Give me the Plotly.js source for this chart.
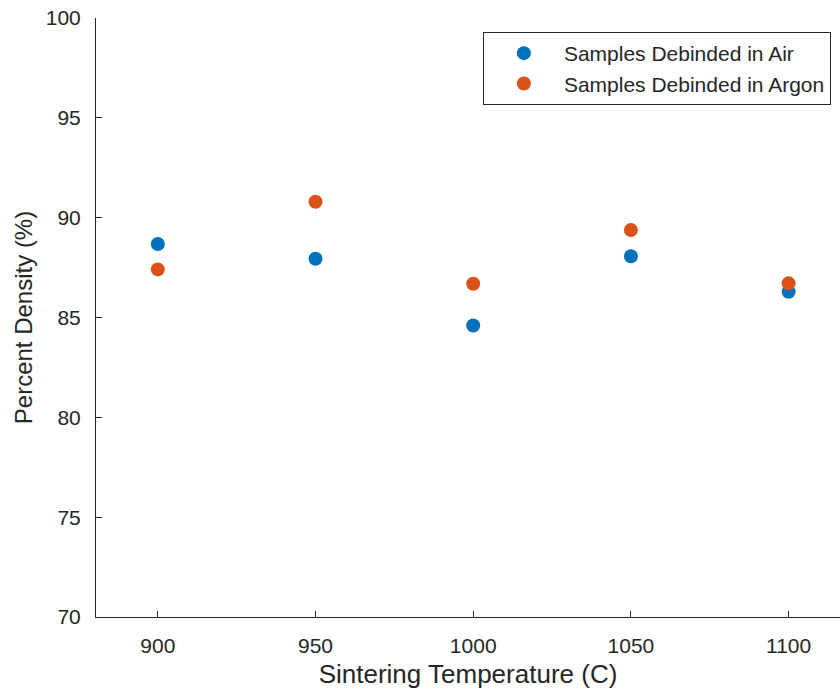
<!DOCTYPE html>
<html>
<head>
<meta charset="utf-8">
<script src="https://cdn.plot.ly/plotly-3.0.1.min.js"></script>
<style>html,body{margin:0;padding:0;background:#fff;}#chart{width:840px;height:696px;}</style>
</head>
<body>
<div id="chart"></div>
<script>
const temperatures = [900, 950, 1000, 1050, 1100];
const densityAir = [88.68, 87.94, 84.60, 88.07, 86.29];
const densityArgon = [87.41, 90.80, 86.69, 89.38, 86.71];
const seriesNames = ["Samples Debinded in Air", "Samples Debinded in Argon"];
const xTicks = [900, 950, 1000, 1050, 1100];
const yTicks = [70, 75, 80, 85, 90, 95, 100];

const font = "Liberation Sans, Arial, Helvetica, sans-serif";
const ink = "#262626";

const traces = [
  {x: temperatures, y: densityAir, name: seriesNames[0], type: "scatter", mode: "markers",
   marker: {color: "#0072BD", size: 14}},
  {x: temperatures, y: densityArgon, name: seriesNames[1], type: "scatter", mode: "markers",
   marker: {color: "#D95319", size: 14}}
];

const layout = {
  width: 840, height: 696,
  margin: {l: 96, r: 0, t: 18, b: 79},
  paper_bgcolor: "#fff", plot_bgcolor: "#fff",
  font: {family: font, color: ink, size: 21},
  showlegend: true,
  legend: {x: 0.52, y: 0.9766, xanchor: "left", yanchor: "top",
    bordercolor: ink, borderwidth: 1, bgcolor: "#fff",
    font: {family: font, size: 21, color: ink}, itemwidth: 70, tracegroupgap: 0},
  xaxis: {range: [880.4, 1116.3], tickvals: xTicks,
    showline: true, linecolor: ink, linewidth: 1, mirror: false, showgrid: false, zeroline: false,
    ticks: "inside", ticklen: 6, tickcolor: ink, tickfont: {size: 21, color: ink},
    ticklabelstandoff: 10,
    title: {text: "Sintering Temperature (C)", font: {size: 26, color: ink}, standoff: 8}},
  yaxis: {range: [70, 100], tickvals: yTicks,
    showline: true, linecolor: ink, linewidth: 1, mirror: false, showgrid: false, zeroline: false,
    ticks: "inside", ticklen: 6, tickcolor: ink, tickfont: {size: 21, color: ink},
    ticklabelstandoff: 10,
    title: {text: "Percent Density (%)", font: {size: 24, color: ink}, standoff: 6}}
};

Plotly.newPlot("chart", traces, layout, {displayModeBar: false, staticPlot: true});
</script>
</body>
</html>
